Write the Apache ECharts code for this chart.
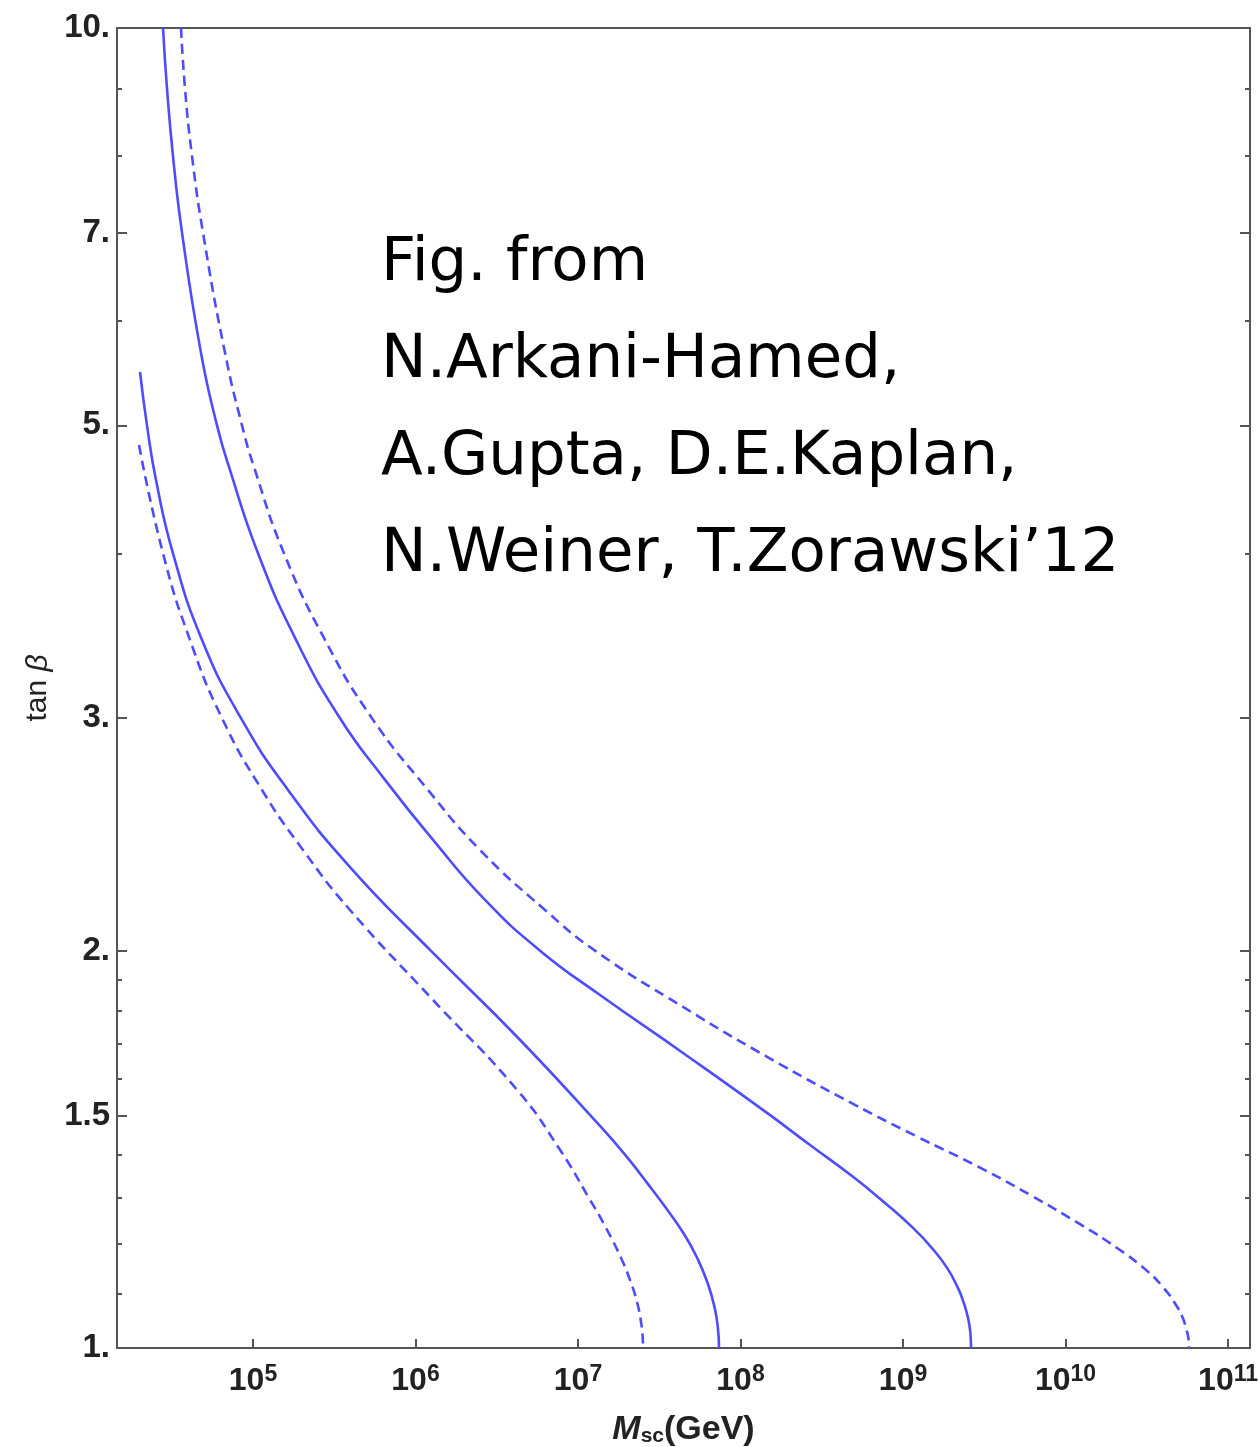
<!DOCTYPE html>
<html>
<head>
<meta charset="utf-8">
<script src="https://cdn.jsdelivr.net/npm/echarts@6/dist/echarts.min.js"></script>
<style>
html, body { margin: 0; padding: 0; background: #fff; }
#main { width: 1259px; height: 1447px; }
</style>
</head>
<body>
<div id="main"></div>
<script>
// solid line, upper
var massSolidUp = [2.794e4, 2.957e4, 3.218e4, 3.657e4, 4.786e4, 6.005e4, 7.118e4, 1.073e5, 1.840e5, 3.431e5, 6.493e5, 1.282e6, 2.678e6, 5.837e6, 1.366e7, 4.429e7, 1.456e8, 2.677e8, 4.924e8, 7.748e8, 1.152e9, 1.508e9, 1.866e9, 2.180e9, 2.340e9, 2.512e9, 2.596e9, 2.621e9];
var tanSolidUp = [10, 9.0, 8.0, 7.0, 5.674, 5.0, 4.65, 4.0, 3.439, 3.0, 2.694, 2.426, 2.185, 2.0, 1.851, 1.673, 1.507, 1.4248, 1.348, 1.2878, 1.233, 1.1905, 1.15, 1.110, 1.086, 1.054, 1.0265, 1.0];
// dashed line, upper
var massDashUp = [3.606e4, 3.816e4, 4.213e4, 4.923e4, 6.726e4, 8.557e4, 1.014e5, 1.551e5, 2.774e5, 5.399e5, 1.194e6, 2.494e6, 6.265e6, 1.272e7, 4.429e7, 1.456e8, 4.924e8, 1.202e9, 2.936e9, 6.219e9, 1.228e10, 2.075e10, 3.173e10, 4.026e10, 4.786e10, 5.262e10, 5.514e10, 5.697e10, 5.754e10];
var tanDashUp = [10, 9.0, 8.0, 7.0, 5.674, 5.0, 4.65, 4.0, 3.439, 3.0, 2.647, 2.384, 2.147, 2.0, 1.813, 1.662, 1.531, 1.4473, 1.371, 1.3036, 1.241, 1.1905, 1.144, 1.110, 1.078, 1.054, 1.035, 1.0176, 1.0];
// solid line, lower
var massSolidLow = [2.017e4, 2.227e4, 2.530e4, 3.218e4, 4.857e4, 8.437e4, 1.642e5, 3.953e5, 1.282e6, 4.213e6, 1.366e7, 1.974e7, 2.697e7, 3.479e7, 4.492e7, 5.414e7, 6.275e7, 6.939e7, 7.261e7, 7.375e7];
var tanSolidLow = [5.489, 5.0, 4.546, 4.0, 3.439, 3.0, 2.647, 2.314, 1.992, 1.721, 1.473, 1.398, 1.331, 1.2765, 1.220, 1.170, 1.120, 1.072, 1.035, 1.0];
// dashed line, lower
var massDashLow = [1.989e4, 2.794e4, 4.095e4, 6.446e4, 1.136e5, 2.031e5, 3.953e5, 1.282e6, 4.213e6, 7.748e6, 1.185e7, 1.487e7, 1.840e7, 2.089e7, 2.307e7, 2.442e7, 2.502e7, 2.512e7];
var tanDashLow = [4.831, 4.0, 3.439, 3.0, 2.647, 2.384, 2.147, 1.835, 1.569, 1.413, 1.295, 1.233, 1.170, 1.126, 1.0835, 1.0464, 1.0176, 1.0];

// ticks
var xTicks = [1e5, 1e6, 1e7, 1e8, 1e9, 1e10, 1e11];
var yMajor = [1, 1.5, 2, 3, 5, 7, 10];
var yMinor = [1.1, 1.2, 1.3, 1.4, 1.6, 1.7, 1.8, 1.9, 4, 6, 8, 9];

var noteLines = ['Fig. from', 'N.Arkani-Hamed,', 'A.Gupta, D.E.Kaplan,', 'N.Weiner, T.Zorawski’12'];

var blue = '#4d4dff';
var frameColor = '#555';
var textColor = '#222';

function pairs(xs, ys) {
    return xs.map(function (x, i) { return [x, ys[i]]; });
}

function yAxisOf(pos, ticks, len, withLine, withLabel) {
    return {
        type: 'log',
        logBase: 10,
        min: 1,
        max: 10,
        position: pos,
        axisLine: { show: withLine, lineStyle: { color: frameColor, width: 2 } },
        axisTick: { show: true, inside: true, length: len, customValues: ticks,
            lineStyle: { color: frameColor, width: 2 } },
        axisLabel: {
            show: withLabel,
            customValues: yMajor,
            margin: 7,
            fontFamily: 'Liberation Sans',
            fontWeight: 'bold',
            fontSize: 33,
            color: textColor,
            formatter: function (v) {
                return Math.abs(v - Math.round(v)) < 1e-9 ? Math.round(v) + '.' : String(v);
            }
        },
        splitLine: { show: false },
        minorTick: { show: false }
    };
}

var chart = echarts.init(document.getElementById('main'));
var yLeft = yAxisOf('left', yMajor, 10, true, true);
yLeft.name = '{n|tan }{g|β}';
yLeft.nameLocation = 'middle';
yLeft.nameRotate = 90;
yLeft.nameGap = 60;
yLeft.nameTextStyle = {
    rich: {
        n: { fontFamily: 'Liberation Sans', fontSize: 30, color: textColor },
        g: { fontFamily: 'Liberation Sans', fontSize: 30, fontStyle: 'italic', color: textColor }
    }
};

var option = {
    backgroundColor: '#fff',
    animation: false,
    grid: { left: 117, right: 9, top: 28, bottom: 99, outerBoundsMode: 'none', containLabel: false },
    xAxis: [{
        type: 'log',
        logBase: 10,
        min: 1.456e4,
        max: 1.365e11,
        position: 'bottom',
        axisLine: { show: true, lineStyle: { color: frameColor, width: 2 } },
        axisTick: { show: true, inside: true, length: 9, customValues: xTicks,
            lineStyle: { color: frameColor, width: 2 } },
        axisLabel: {
            customValues: xTicks,
            margin: 15,
            formatter: function (v) {
                return '{b|10}{s|' + Math.round(Math.log10(v)) + '}';
            },
            rich: {
                b: { fontFamily: 'Liberation Sans', fontSize: 32, fontWeight: 'bold', color: textColor },
                s: { fontFamily: 'Liberation Sans', fontSize: 23, fontWeight: 'bold', color: textColor, padding: [0, 0, 13, 0] }
            }
        },
        splitLine: { show: false },
        minorTick: { show: false },
        name: '{i|M}{sub|sc}{n|(GeV)}',
        nameLocation: 'middle',
        nameGap: 64,
        nameTextStyle: {
            rich: {
                i: { fontFamily: 'Liberation Sans', fontSize: 34, fontWeight: 'bold', fontStyle: 'italic', color: textColor },
                sub: { fontFamily: 'Liberation Sans', fontSize: 21, fontWeight: 'bold', color: textColor, padding: [14, 0, 0, 0] },
                n: { fontFamily: 'Liberation Sans', fontSize: 34, fontWeight: 'bold', color: textColor }
            }
        }
    }, {
        type: 'log',
        logBase: 10,
        min: 1.456e4,
        max: 1.365e11,
        position: 'top',
        axisLine: { show: true, lineStyle: { color: frameColor, width: 2 } },
        axisTick: { show: false },
        axisLabel: { show: false },
        splitLine: { show: false }
    }],
    yAxis: [
        yLeft,
        yAxisOf('left', yMinor, 5, false, false),
        yAxisOf('right', yMajor, 10, true, false),
        yAxisOf('right', yMinor, 5, false, false)
    ],
    graphic: [{
        type: 'text',
        left: 381,
        top: 216,
        style: {
            text: noteLines.join('\n'),
            fontFamily: 'DejaVu Sans',
            fontSize: 61,
            lineHeight: 97,
            fill: '#000'
        }
    }],
    series: [
        { name: 'solid upper', data: pairs(massSolidUp, tanSolidUp), dash: 'solid' },
        { name: 'dashed upper', data: pairs(massDashUp, tanDashUp), dash: [10, 6] },
        { name: 'solid lower', data: pairs(massSolidLow, tanSolidLow), dash: 'solid' },
        { name: 'dashed lower', data: pairs(massDashLow, tanDashLow), dash: [10, 6] }
    ].map(function (s) {
        return {
            name: s.name,
            type: 'line',
            xAxisIndex: 0,
            yAxisIndex: 0,
            data: s.data,
            showSymbol: false,
            smooth: 0.5,
            lineStyle: { color: blue, width: 2.6, type: s.dash },
            z: 3
        };
    })
};
chart.setOption(option);
</script>
</body>
</html>
